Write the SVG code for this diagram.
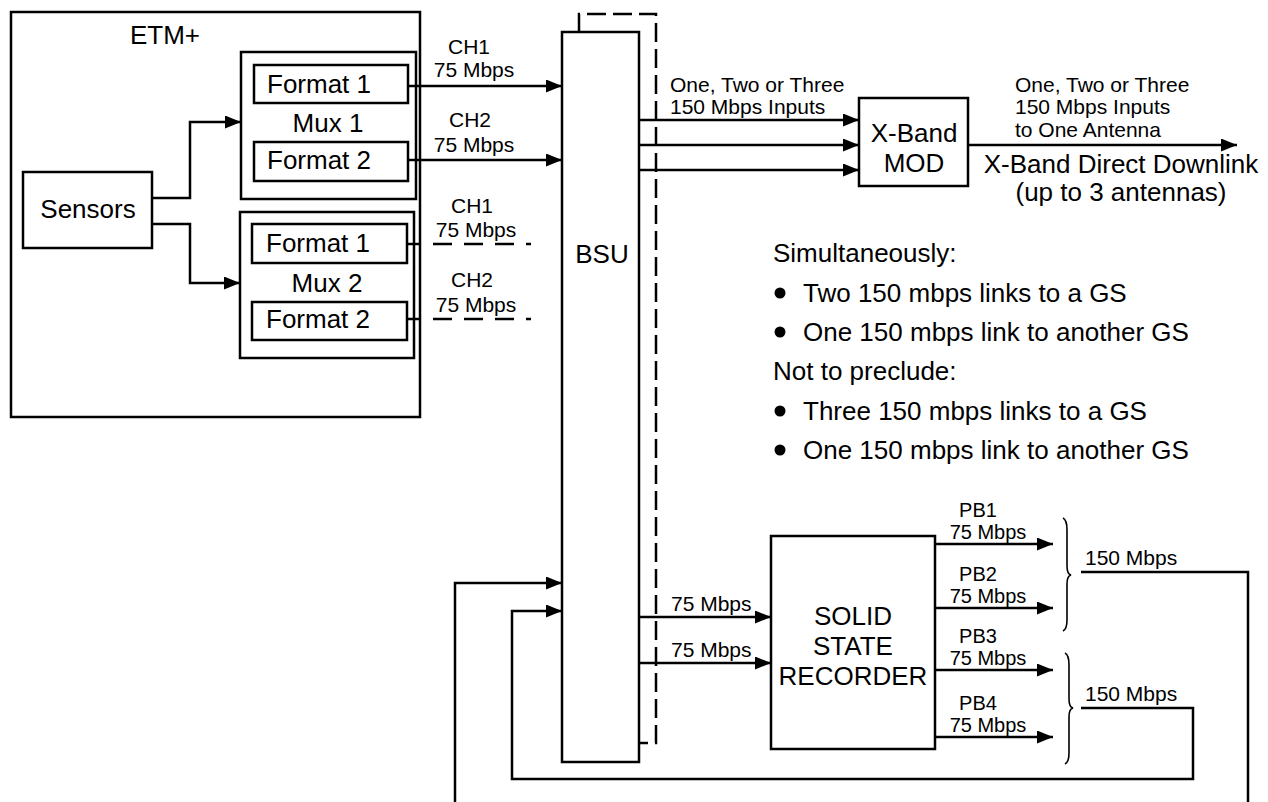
<svg xmlns="http://www.w3.org/2000/svg" width="1268" height="802" viewBox="0 0 1268 802">
<style>
.box{fill:#fff;stroke:#000;stroke-width:2.5}
.ln{fill:none;stroke:#000;stroke-width:2.5}
.dl{fill:none;stroke:#000;stroke-width:2.5;stroke-dasharray:19 7}
.br{fill:none;stroke:#000;stroke-width:1.6}
text{font-family:"Liberation Sans",Arial,sans-serif;fill:#000}
.L{font-size:26px}
.S{font-size:21px}
.P{font-size:20px}
.m{text-anchor:middle}
</style>
<defs>
<marker id="ah" markerUnits="userSpaceOnUse" markerWidth="17" markerHeight="14" refX="16" refY="6.5" orient="auto">
<path d="M0,0 L16,6.5 L0,13 Z" fill="#000"/>
</marker>
</defs>
<rect width="1268" height="802" fill="#fff"/>

<g id="etm">
<rect class="box" x="11" y="12" width="409" height="405"/>
<text class="L m" x="165" y="44">ETM+</text>
</g>
<g id="sensors">
<rect class="box" x="23" y="172" width="129" height="76"/>
<text class="L m" x="88" y="218">Sensors</text>
</g>
<g id="mux1">
<rect class="box" x="241" y="52" width="175" height="147"/>
<text class="L m" x="328" y="132">Mux 1</text>
</g>
<g id="mux1-format1">
<rect class="box" x="254" y="65" width="154" height="38"/>
<text class="L" x="267" y="93">Format 1</text>
</g>
<g id="mux1-format2">
<rect class="box" x="254" y="142" width="154" height="39"/>
<text class="L" x="267" y="169">Format 2</text>
</g>
<g id="mux2">
<rect class="box" x="240" y="212" width="174" height="146"/>
<text class="L m" x="327" y="292">Mux 2</text>
</g>
<g id="mux2-format1">
<rect class="box" x="252" y="224" width="155" height="39"/>
<text class="L" x="266" y="252">Format 1</text>
</g>
<g id="mux2-format2">
<rect class="box" x="252" y="302" width="155" height="38"/>
<text class="L" x="266" y="328">Format 2</text>
</g>
<g id="bsu">
<path class="dl" d="M579,32 V14 H656 V743 H639"/>
<rect class="box" x="562" y="32" width="77" height="730"/>
<text class="L m" x="602" y="263">BSU</text>
</g>
<g id="xband-mod">
<rect class="box" x="859" y="98" width="109" height="88"/>
<text class="L m" x="914" y="142">X-Band</text>
<text class="L m" x="914" y="172">MOD</text>
</g>
<g id="ssr">
<rect class="box" x="771" y="536" width="164" height="213"/>
<text class="L m" x="853" y="625">SOLID</text>
<text class="L m" x="853" y="655">STATE</text>
<text class="L m" x="853" y="685">RECORDER</text>
</g>
<g id="downlink-note">
<text class="L m" x="1121" y="173">X-Band Direct Downlink</text>
<text class="L m" x="1121" y="201">(up to 3 antennas)</text>
</g>
<g id="requirements">
<text class="L" x="773" y="262">Simultaneously:</text>
<circle cx="780" cy="293" r="5.5"/>
<text class="L" x="803" y="302">Two 150 mbps links to a GS</text>
<circle cx="780" cy="332" r="5.5"/>
<text class="L" x="803" y="341">One 150 mbps link to another GS</text>
<text class="L" x="773" y="380">Not to preclude:</text>
<circle cx="780" cy="411" r="5.5"/>
<text class="L" x="803" y="420">Three 150 mbps links to a GS</text>
<circle cx="780" cy="450" r="5.5"/>
<text class="L" x="803" y="459">One 150 mbps link to another GS</text>
</g>

<g id="connectors">
<path class="ln" d="M152,198 H190 V122 H241" marker-end="url(#ah)"/>
<path class="ln" d="M152,224 H190 V283 H240" marker-end="url(#ah)"/>
<path class="ln" d="M408,86 H562" marker-end="url(#ah)"/>
<path class="ln" d="M408,160 H562" marker-end="url(#ah)"/>
<path class="ln" d="M408,244 H531" style="stroke-dasharray:19 12;stroke-dashoffset:6"/>
<path class="ln" d="M408,319 H531" style="stroke-dasharray:19 12;stroke-dashoffset:6"/>
<text class="S m" x="469" y="54">CH1</text>
<text class="S m" x="474" y="77">75 Mbps</text>
<text class="S m" x="470" y="127">CH2</text>
<text class="S m" x="474" y="152">75 Mbps</text>
<text class="S m" x="472" y="213">CH1</text>
<text class="S m" x="476" y="237">75 Mbps</text>
<text class="S m" x="472" y="287">CH2</text>
<text class="S m" x="476" y="312">75 Mbps</text>

<path class="ln" d="M639,120 H859" marker-end="url(#ah)"/>
<path class="ln" d="M639,145 H859" marker-end="url(#ah)"/>
<path class="ln" d="M639,170 H859" marker-end="url(#ah)"/>
<text class="S" x="670" y="92">One, Two or Three</text>
<text class="S" x="670" y="114">150 Mbps Inputs</text>
<path class="ln" d="M968,145 H1237" marker-end="url(#ah)"/>
<text class="S" x="1015" y="92">One, Two or Three</text>
<text class="S" x="1015" y="114">150 Mbps Inputs</text>
<text class="S" x="1015" y="137">to One Antenna</text>

<path class="ln" d="M639,617 H771" marker-end="url(#ah)"/>
<path class="ln" d="M639,663 H771" marker-end="url(#ah)"/>
<text class="S" x="671" y="611">75 Mbps</text>
<text class="S" x="671" y="657">75 Mbps</text>

<path class="ln" d="M935,544 H1053" marker-end="url(#ah)"/>
<path class="ln" d="M935,608 H1053" marker-end="url(#ah)"/>
<path class="ln" d="M935,670 H1053" marker-end="url(#ah)"/>
<path class="ln" d="M935,737 H1053" marker-end="url(#ah)"/>
<text class="P m" x="978" y="517">PB1</text>
<text class="P m" x="988" y="539">75 Mbps</text>
<text class="P m" x="978" y="581">PB2</text>
<text class="P m" x="988" y="603">75 Mbps</text>
<text class="P m" x="978" y="643">PB3</text>
<text class="P m" x="988" y="665">75 Mbps</text>
<text class="P m" x="978" y="710">PB4</text>
<text class="P m" x="988" y="732">75 Mbps</text>

<path class="br" d="M1063,518 Q1067,520 1067,530 L1067,566 Q1067,574 1071,575 Q1067,576 1067,584 L1067,620 Q1067,629 1063,631"/>
<path class="br" d="M1065,653 Q1069,655 1069,665 L1069,699 Q1069,707 1073,708 Q1069,709 1069,717 L1069,753 Q1069,762 1065,764"/>

<path class="ln" d="M1081,572 H1248 V815 H455 V583 H562" marker-end="url(#ah)"/>
<text class="S" x="1085" y="565">150 Mbps</text>
<path class="ln" d="M1081,708 H1193 V779 H512 V611 H562" marker-end="url(#ah)"/>
<text class="S" x="1085" y="701">150 Mbps</text>
</g>
</svg>
